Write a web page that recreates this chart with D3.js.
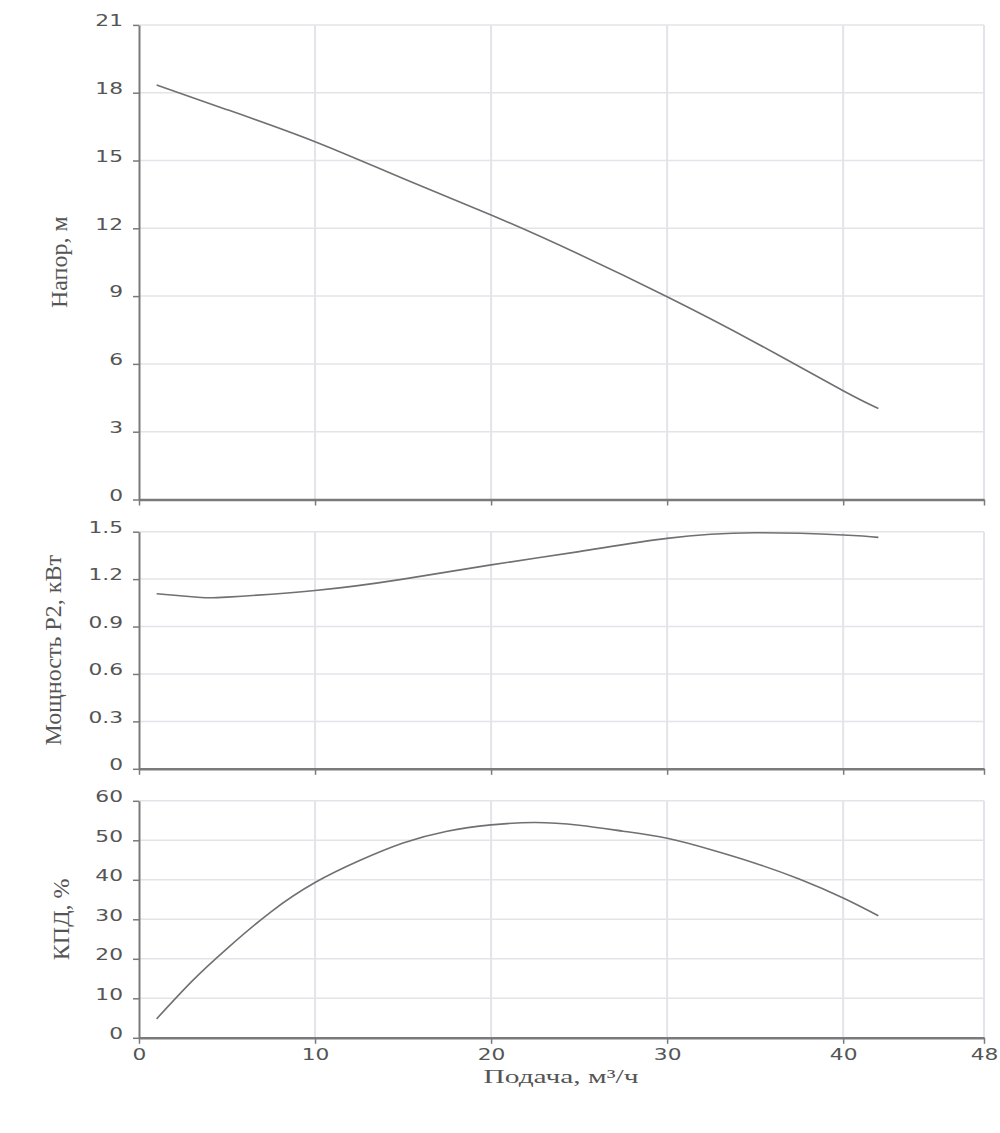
<!DOCTYPE html>
<html>
<head>
<meta charset="utf-8">
<script src="https://cdn.jsdelivr.net/npm/d3@7"></script>
<style>
  body { margin: 0; background: #fff; }
  .tick text { font-family: "DejaVu Sans", sans-serif; font-size: 15px; fill: #555; }
  .title { font-family: "Liberation Serif", serif; fill: #555; }
</style>
</head>
<body>
<div id="chart"></div>
<script>
// data
var flowTicks = [0, 10, 20, 30, 40, 48];

var headFlow = [1, 5, 10, 15, 20, 25, 30, 35, 40, 42];
var head = [18.34, 17.25, 15.83, 14.2, 12.59, 10.85, 8.97, 6.95, 4.81, 4.03];
var headTicks = [0, 3, 6, 9, 12, 15, 18, 21];

var powerFlow = [1, 3.5, 5, 10, 15, 20, 25, 30, 35, 40, 42];
var power = [1.107, 1.084, 1.086, 1.128, 1.2, 1.29, 1.374, 1.458, 1.493, 1.479, 1.464];
var powerTicks = [0, 0.3, 0.6, 0.9, 1.2, 1.5];

var effFlow = [1, 3, 5, 7.5, 10, 12.5, 15, 17.5, 20, 22.5, 25, 27.5, 30, 32.5, 35, 37.5, 40, 42];
var eff = [4.8, 14.3, 22.6, 31.9, 39.3, 44.8, 49.3, 52.3, 53.9, 54.5, 53.8, 52.3, 50.5, 47.6, 44.2, 40.2, 35.4, 30.9];
var effTicks = [0, 10, 20, 30, 40, 50, 60];

var stretch = 1.45;

var svg = d3.select("#chart").append("svg")
  .attr("width", 1000)
  .attr("height", 1133);

var x = d3.scaleLinear().domain([0, 48]).range([139, 984]);

var panels = [
  { flow: headFlow, vals: head, ticks: headTicks, max: 21, top: 24.9, bottom: 499.5,
    title: "Напор, м", tx: 67, fmt: d3.format("d"), labels: false },
  { flow: powerFlow, vals: power, ticks: powerTicks, max: 1.5, top: 531.7, bottom: 768.8,
    title: "Мощность P2, кВт", tx: 61, fmt: function(d) { return d === 0 ? "0" : d3.format(".1f")(d); }, labels: false },
  { flow: effFlow, vals: eff, ticks: effTicks, max: 60, top: 800.8, bottom: 1037.8,
    title: "КПД, %", tx: 69, fmt: d3.format("d"), labels: true }
];

panels.forEach(function(p) {
  var y = d3.scaleLinear().domain([0, p.max]).range([p.bottom, p.top]);
  var g = svg.append("g");

  // grid
  g.selectAll(".hgrid").data(p.ticks.slice(1)).enter().append("line")
    .attr("x1", x(0)).attr("x2", x(48))
    .attr("y1", function(d) { return y(d); })
    .attr("y2", function(d) { return y(d); })
    .attr("stroke", "#e3e4ea").attr("stroke-width", 1.5);

  g.selectAll(".vgrid").data(flowTicks.slice(1)).enter().append("line")
    .attr("x1", function(d) { return x(d); })
    .attr("x2", function(d) { return x(d); })
    .attr("y1", p.top).attr("y2", p.bottom)
    .attr("stroke", "#e3e4ea").attr("stroke-width", 2);

  // y axis
  var ya = g.append("g")
    .attr("transform", "translate(" + x(0) + ",0)")
    .call(d3.axisLeft(y).tickValues(p.ticks).tickFormat(p.fmt).tickSize(6).tickSizeOuter(0));
  ya.select(".domain").attr("stroke", "#7a7a7a").attr("stroke-width", 2);
  ya.selectAll(".tick line").attr("stroke", "#7a7a7a").attr("stroke-width", 1.5);
  ya.selectAll(".tick text")
    .attr("x", 0).attr("dy", "0.05em")
    .attr("transform", "translate(-16,0) scale(" + stretch + ",1)");

  // x axis
  var xa = g.append("g")
    .attr("transform", "translate(0," + p.bottom + ")")
    .call(d3.axisBottom(x).tickValues(flowTicks).tickSize(6).tickSizeOuter(0));
  xa.select(".domain").attr("stroke", "#7a7a7a").attr("stroke-width", 2.5);
  xa.selectAll(".tick line").attr("stroke", "#7a7a7a").attr("stroke-width", 1.5);
  if (p.labels) {
    xa.selectAll(".tick text")
      .attr("y", 0).attr("dy", 0)
      .attr("transform", "translate(0,22) scale(" + stretch + ",1)");
  } else {
    xa.selectAll(".tick text").remove();
  }

  // curve
  var line = d3.line()
    .x(function(d, i) { return x(p.flow[i]); })
    .y(function(d) { return y(d); })
    .curve(d3.curveNatural);

  g.append("path")
    .datum(p.vals)
    .attr("d", line)
    .attr("fill", "none")
    .attr("stroke", "#707070")
    .attr("stroke-width", 1.6);

  // y title
  g.append("text")
    .attr("class", "title")
    .attr("transform", "translate(" + p.tx + "," + (p.top + p.bottom) / 2 + ") rotate(-90)")
    .attr("text-anchor", "middle")
    .style("font-size", "24px")
    .text(p.title);
});

svg.append("text")
  .attr("class", "title")
  .attr("transform", "translate(561,1083) scale(1.55,1)")
  .attr("text-anchor", "middle")
  .style("font-size", "19px")
  .text("Подача, м³/ч");
</script>
</body>
</html>
